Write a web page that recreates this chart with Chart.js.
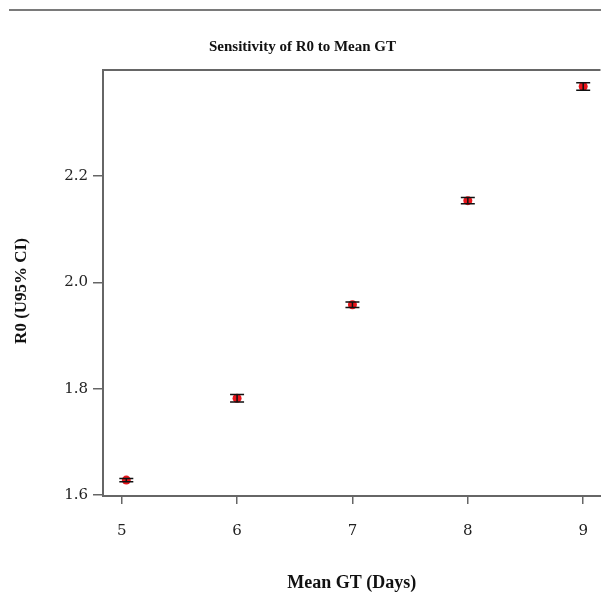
<!DOCTYPE html>
<html>
<head>
<meta charset="utf-8">
<script src="https://cdn.jsdelivr.net/npm/chart.js@4"></script>
<style>
  html, body { margin: 0; padding: 0; background: #fff; overflow: hidden; }
  #wrap { position: relative; width: 601px; height: 594px; overflow: hidden; }
  #topRule { position: absolute; left: 9px; top: 9px; width: 592px; height: 2px; background: #7a7a7a; }
</style>
</head>
<body>
<div id="wrap">
  <div id="topRule"></div>
  <canvas id="gtChart" width="605" height="594"></canvas>
</div>
<script>
// data
const gtDays = [5.04, 6, 7, 8, 9];
const r0Mean = [1.628, 1.782, 1.958, 2.154, 2.369];
const r0Lower = [1.625, 1.775, 1.953, 2.148, 2.362];
const r0Upper = [1.631, 1.789, 1.963, 2.160, 2.376];
const xTicks = [5, 6, 7, 8, 9];
const yTicks = [1.6, 1.8, 2.0, 2.2];
const yTitle = "R0 (U95% CI)";

const serif = "'Liberation Serif', 'DejaVu Serif', serif";
const tickFont = "'DejaVu Serif', serif";

/* barras de erro, linha superior do quadro e título do eixo Y */
const errorBars = {
  id: "errorBars",
  afterDatasetsDraw(chart) {
    const { ctx, scales: { x, y }, chartArea } = chart;
    ctx.save();
    ctx.strokeStyle = "#111";
    ctx.lineWidth = 1.5;
    gtDays.forEach((d, i) => {
      const px = x.getPixelForValue(d);
      const yl = y.getPixelForValue(r0Lower[i]);
      const yu = y.getPixelForValue(r0Upper[i]);
      ctx.beginPath();
      ctx.moveTo(px, yl);
      ctx.lineTo(px, yu);
      ctx.moveTo(px - 7, yl);
      ctx.lineTo(px + 7, yl);
      ctx.moveTo(px - 7, yu);
      ctx.lineTo(px + 7, yu);
      ctx.stroke();
    });
    ctx.strokeStyle = "#666";
    ctx.lineWidth = 2;
    ctx.beginPath();
    ctx.moveTo(chartArea.left, chartArea.top);
    ctx.lineTo(chartArea.right, chartArea.top);
    ctx.stroke();

    ctx.translate(22, (chartArea.top + chartArea.bottom) / 2 + 8);
    ctx.rotate(-Math.PI / 2);
    ctx.fillStyle = "#111";
    ctx.font = "bold 17px " + serif;
    ctx.textAlign = "center";
    ctx.textBaseline = "middle";
    ctx.fillText(yTitle, 0, 0);
    ctx.restore();
  },
};

const ctx = document.getElementById("gtChart").getContext("2d");
new Chart(ctx, {
  type: "scatter",
  data: {
    datasets: [
      {
        data: gtDays.map((d, i) => ({ x: d, y: r0Mean[i] })),
        backgroundColor: "#e8151b",
        borderColor: "#e8151b",
        pointRadius: 4.5,
        borderWidth: 0,
      },
    ],
  },
  options: {
    responsive: false,
    animation: false,
    layout: { padding: 0 },
    plugins: {
      legend: { display: false },
      tooltip: { enabled: false },
      title: {
        display: true,
        text: "Sensitivity of R0 to Mean GT",
        color: "#111",
        font: { family: serif, size: 15, weight: "bold" },
        padding: { top: 38, bottom: 14 },
      },
    },
    scales: {
      x: {
        type: "linear",
        min: 4.838,
        max: 9.15,
        afterFit: (s) => {
          s.height = 98;
          s.paddingLeft = 0;
          s.paddingRight = 0;
        },
        afterBuildTicks: (s) => { s.ticks = xTicks.map((v) => ({ value: v })); },
        grid: { drawOnChartArea: false, tickLength: 8, color: "#666", lineWidth: 1.5 },
        border: { color: "#666", width: 2 },
        ticks: {
          color: "#222",
          padding: 18,
          maxRotation: 0,
          font: { family: tickFont, size: 15 },
        },
        title: {
          display: true,
          text: "Mean GT (Days)",
          color: "#111",
          font: { family: serif, size: 18, weight: "bold" },
          padding: { top: 0, bottom: 0 },
        },
      },
      y: {
        min: 1.598,
        max: 2.4,
        afterFit: (s) => {
          s.width = 103;
          s.paddingTop = 0;
          s.paddingBottom = 0;
        },
        afterBuildTicks: (s) => { s.ticks = yTicks.map((v) => ({ value: v })); },
        grid: { drawOnChartArea: false, tickLength: 10, color: "#666", lineWidth: 1.5 },
        border: { color: "#666", width: 2 },
        ticks: {
          color: "#222",
          padding: 5,
          font: { family: tickFont, size: 15 },
          callback: (v) => Number(v).toFixed(1),
        },
      },
    },
  },
  plugins: [errorBars],
});
</script>
</body>
</html>
